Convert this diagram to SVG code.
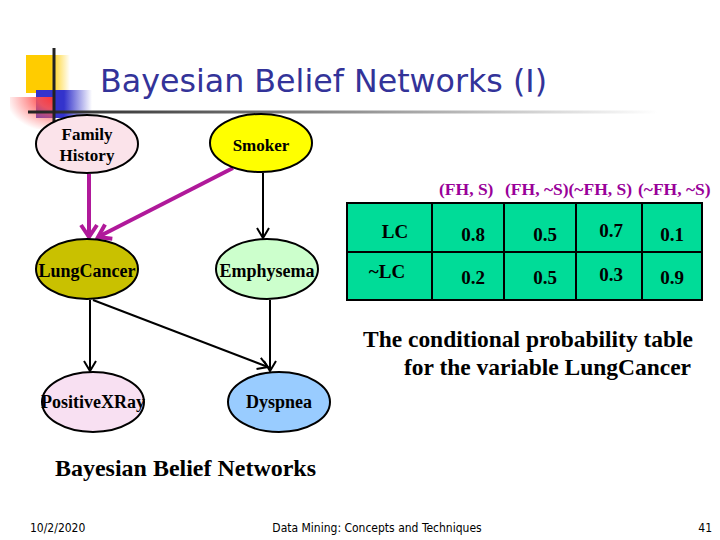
<svg xmlns="http://www.w3.org/2000/svg" width="720" height="540" viewBox="0 0 720 540">
<defs>
<linearGradient id="gY" x1="0" y1="0" x2="1" y2="0"><stop offset="0" stop-color="#FFCC00"/><stop offset="0.55" stop-color="#FFCC00"/><stop offset="1" stop-color="#FFCC00" stop-opacity="0"/></linearGradient>
<linearGradient id="gB" x1="0" y1="0" x2="1" y2="0"><stop offset="0" stop-color="#3333CC"/><stop offset="0.5" stop-color="#3333CC"/><stop offset="1" stop-color="#3333CC" stop-opacity="0"/></linearGradient>
<radialGradient id="gR" cx="1" cy="0" r="1.1"><stop offset="0" stop-color="#FF3333"/><stop offset="0.35" stop-color="#FF5555" stop-opacity="0.9"/><stop offset="1" stop-color="#FF6666" stop-opacity="0"/></radialGradient>
<linearGradient id="gL" x1="0" y1="0" x2="1" y2="0"><stop offset="0" stop-color="#222222"/><stop offset="0.4" stop-color="#777777"/><stop offset="1" stop-color="#FFFFFF"/></linearGradient>
<marker id="am" markerUnits="userSpaceOnUse" markerWidth="20" markerHeight="20" viewBox="0 0 20 20" refX="14" refY="10" orient="auto"><path d="M2,2 L14,10 L2,18" fill="none" stroke="#B0199A" stroke-width="4"/></marker>
<marker id="ab" markerUnits="userSpaceOnUse" markerWidth="16" markerHeight="16" viewBox="0 0 16 16" refX="12" refY="8" orient="auto"><path d="M2,2 L12,8 L2,14" fill="none" stroke="#000" stroke-width="2"/></marker>
</defs>
<style>
.node{stroke:#000;stroke-width:2}
.nt{font-family:"Liberation Serif","Times New Roman",serif;font-weight:bold;fill:#000;text-anchor:middle}
.cell{fill:#00DC98;stroke:#000;stroke-width:2}
.ct{font-family:"Liberation Serif","Times New Roman",serif;font-weight:bold;font-size:19px;fill:#000;text-anchor:middle}
.hd{font-family:"Liberation Serif","Times New Roman",serif;font-weight:bold;font-size:17.5px;fill:#990099}
.cap{font-family:"Liberation Serif","Times New Roman",serif;font-weight:bold;font-size:23px;fill:#000}
.ft{font-family:"DejaVu Sans Condensed","Liberation Sans Narrow",sans-serif;font-size:12px;fill:#000}
.mag{stroke:#B0199A;stroke-width:4;fill:none;marker-end:url(#am)}
.blk{stroke:#000;stroke-width:2;fill:none;marker-end:url(#ab)}
</style>
<rect width="720" height="540" fill="#fff"/>
<g id="decoration">
<rect x="26" y="55" width="44" height="38" fill="url(#gY)"/>
<rect x="36" y="90" width="56" height="28" fill="url(#gB)"/>
<rect x="10" y="97" width="45" height="32" fill="url(#gR)"/>
<rect x="28" y="110.5" width="630" height="3" fill="url(#gL)"/>
<rect x="52.5" y="48" width="3" height="74" fill="#222"/>
</g>
<text x="100" y="92" font-family="Tahoma,'DejaVu Sans',sans-serif" font-size="32" fill="#333399" textLength="447" lengthAdjust="spacingAndGlyphs">Bayesian Belief Networks (I)</text>
<g id="connectors">
<line class="mag" x1="89" y1="174" x2="89" y2="237"/>
<line class="mag" x1="233" y1="168" x2="98" y2="237"/>
<line class="blk" x1="263" y1="173" x2="263" y2="238"/>
<line class="blk" x1="90" y1="300" x2="90" y2="371"/>
<line class="blk" x1="93" y1="300" x2="268" y2="367"/>
<line class="blk" x1="270" y1="300" x2="270" y2="371"/>
</g>
<g id="familyhistory"><ellipse class="node" cx="87" cy="144" rx="51" ry="29" fill="#FBE3EA"/><text class="nt" x="87" y="140" font-size="17">Family</text><text class="nt" x="87" y="161" font-size="17">History</text></g>
<g id="smoker"><ellipse class="node" cx="261" cy="143" rx="51" ry="29" fill="#FFFF00"/><text class="nt" x="261" y="151" font-size="17">Smoker</text></g>
<g id="lungcancer"><ellipse class="node" cx="87" cy="269" rx="51" ry="30" fill="#C9C100"/><text class="nt" x="87" y="277" font-size="18">LungCancer</text></g>
<g id="emphysema"><ellipse class="node" cx="267" cy="269" rx="51" ry="30" fill="#CCFFCC"/><text class="nt" x="267" y="277" font-size="18">Emphysema</text></g>
<g id="positivexray"><ellipse class="node" cx="93" cy="402" rx="51" ry="30" fill="#F8E0F2"/><text class="nt" x="93" y="408" font-size="18">PositiveXRay</text></g>
<g id="dyspnea"><ellipse class="node" cx="279" cy="402" rx="51" ry="30" fill="#99CCFF"/><text class="nt" x="279" y="408" font-size="18">Dyspnea</text></g>
<g id="cpt">
<text class="hd" x="439" y="195">(FH, S)</text>
<text class="hd" x="505" y="195">(FH, ~S)(~FH, S)</text>
<text class="hd" x="638" y="195">(~FH, ~S)</text>
<rect class="cell" x="347" y="203" width="85" height="49"/>
<rect class="cell" x="432" y="203" width="72" height="49"/>
<rect class="cell" x="504" y="203" width="72" height="49"/>
<rect class="cell" x="576" y="203" width="66" height="49"/>
<rect class="cell" x="642" y="203" width="60" height="49"/>
<rect class="cell" x="347" y="252" width="85" height="48"/>
<rect class="cell" x="432" y="252" width="72" height="48"/>
<rect class="cell" x="504" y="252" width="72" height="48"/>
<rect class="cell" x="576" y="252" width="66" height="48"/>
<rect class="cell" x="642" y="252" width="60" height="48"/>
<text class="ct" x="395" y="238">LC</text>
<text class="ct" x="473" y="241">0.8</text>
<text class="ct" x="545" y="241">0.5</text>
<text class="ct" x="611" y="237">0.7</text>
<text class="ct" x="672" y="241">0.1</text>
<text class="ct" x="387" y="278">~LC</text>
<text class="ct" x="473" y="284">0.2</text>
<text class="ct" x="545" y="284">0.5</text>
<text class="ct" x="611" y="281">0.3</text>
<text class="ct" x="672" y="284">0.9</text>
</g>
<text class="cap" x="363" y="347" textLength="330" lengthAdjust="spacingAndGlyphs">The conditional probability table</text>
<text class="cap" x="404" y="375" textLength="287" lengthAdjust="spacingAndGlyphs">for the variable LungCancer</text>
<text class="cap" x="55" y="476" font-size="24" textLength="261" lengthAdjust="spacingAndGlyphs">Bayesian Belief Networks</text>
<text class="ft" x="30" y="532">10/2/2020</text>
<text class="ft" x="377" y="532" text-anchor="middle">Data Mining: Concepts and Techniques</text>
<text class="ft" x="712" y="532" text-anchor="end">41</text>
</svg>
